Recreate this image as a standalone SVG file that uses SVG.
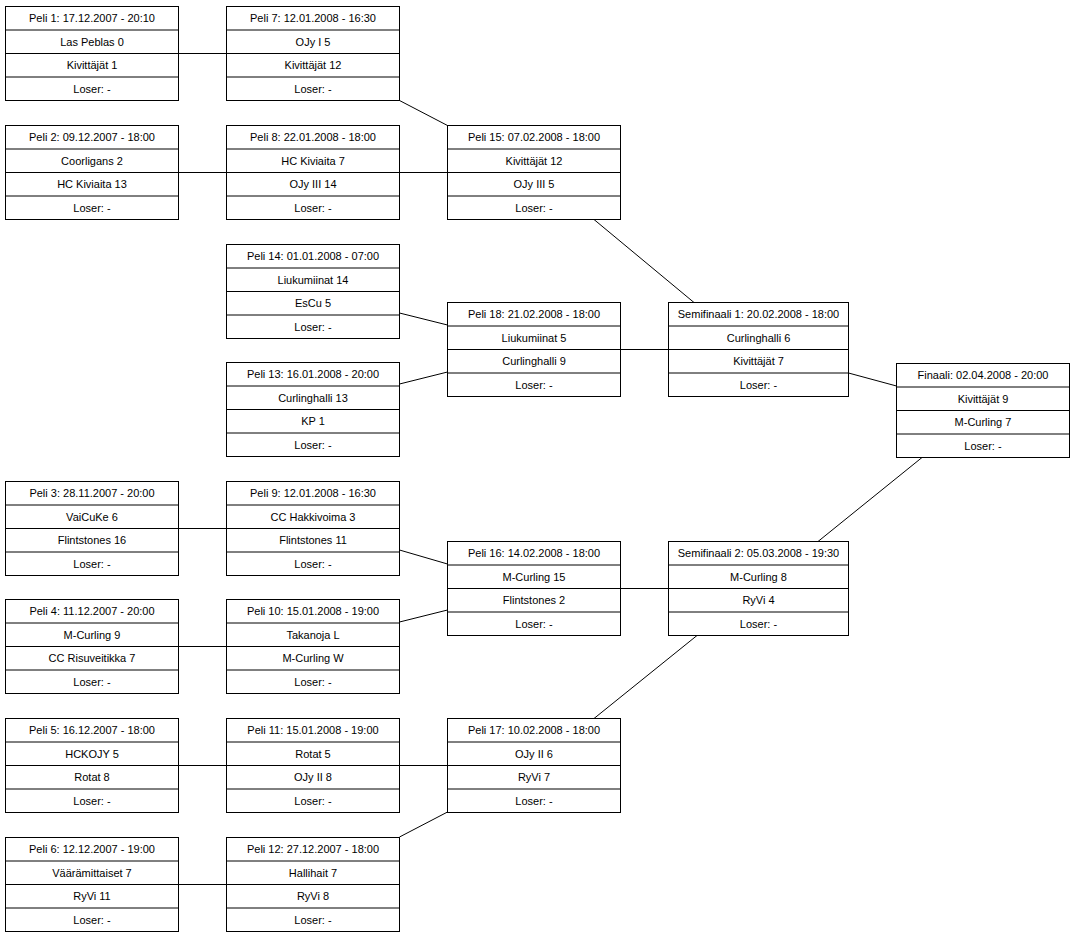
<svg xmlns="http://www.w3.org/2000/svg" width="1074" height="937" viewBox="0 0 1074 937">
<style>
rect{fill:#fff;stroke:#000;stroke-width:1}
.r{stroke:#000;stroke-width:1}
text{font-family:"Liberation Sans",Arial,sans-serif;font-size:11px;text-anchor:middle;fill:#000}
#c line{stroke:#000;stroke-width:1}
</style>
<defs>
<g id="b"><rect x="0" y="0" width="173" height="94"/><line class="r" x1="0" y1="23.5" x2="173" y2="23.5"/><line class="r" x1="0" y1="47" x2="173" y2="47"/><line class="r" x1="0" y1="70.5" x2="173" y2="70.5"/></g>
<g id="bw"><rect x="0" y="0" width="180" height="94"/><line class="r" x1="0" y1="23.5" x2="180" y2="23.5"/><line class="r" x1="0" y1="47" x2="180" y2="47"/><line class="r" x1="0" y1="70.5" x2="180" y2="70.5"/></g>
</defs>
<rect x="0" y="0" width="1074" height="937" style="stroke:none"/>
<g id="c">
<line x1="178.5" y1="53.5" x2="226.5" y2="53.5"/>
<line x1="399.5" y1="100.5" x2="447.5" y2="125.5"/>
<line x1="178.5" y1="172.5" x2="226.5" y2="172.5"/>
<line x1="399.5" y1="172.5" x2="447.5" y2="172.5"/>
<line x1="594" y1="219.5" x2="694" y2="302.5"/>
<line x1="399.5" y1="313" x2="447.5" y2="325"/>
<line x1="399.5" y1="384" x2="447.5" y2="372"/>
<line x1="620.5" y1="349.5" x2="668.5" y2="349.5"/>
<line x1="848.5" y1="373" x2="896.5" y2="386"/>
<line x1="818" y1="541.5" x2="922" y2="457.5"/>
<line x1="178.5" y1="528.5" x2="226.5" y2="528.5"/>
<line x1="399.5" y1="550" x2="447.5" y2="564"/>
<line x1="178.5" y1="646.5" x2="226.5" y2="646.5"/>
<line x1="399.5" y1="622" x2="447.5" y2="610"/>
<line x1="620.5" y1="588.5" x2="668.5" y2="588.5"/>
<line x1="594" y1="718.5" x2="697" y2="635.5"/>
<line x1="178.5" y1="765.5" x2="226.5" y2="765.5"/>
<line x1="399.5" y1="765.5" x2="447.5" y2="765.5"/>
<line x1="399.5" y1="837" x2="447.5" y2="812"/>
<line x1="178.5" y1="884.5" x2="226.5" y2="884.5"/>
</g>
<g id="p1" transform="translate(5.5,6.5)"><use href="#b"/><text x="86.5" y="15">Peli 1: 17.12.2007 - 20:10</text><text x="86.5" y="39">Las Peblas 0</text><text x="86.5" y="62">Kivittäjät 1</text><text x="86.5" y="86">Loser: -</text></g>
<g id="p2" transform="translate(5.5,125.5)"><use href="#b"/><text x="86.5" y="15">Peli 2: 09.12.2007 - 18:00</text><text x="86.5" y="39">Coorligans 2</text><text x="86.5" y="62">HC Kiviaita 13</text><text x="86.5" y="86">Loser: -</text></g>
<g id="p3" transform="translate(5.5,481.5)"><use href="#b"/><text x="86.5" y="15">Peli 3: 28.11.2007 - 20:00</text><text x="86.5" y="39">VaiCuKe 6</text><text x="86.5" y="62">Flintstones 16</text><text x="86.5" y="86">Loser: -</text></g>
<g id="p4" transform="translate(5.5,599.5)"><use href="#b"/><text x="86.5" y="15">Peli 4: 11.12.2007 - 20:00</text><text x="86.5" y="39">M-Curling 9</text><text x="86.5" y="62">CC Risuveitikka 7</text><text x="86.5" y="86">Loser: -</text></g>
<g id="p5" transform="translate(5.5,718.5)"><use href="#b"/><text x="86.5" y="15">Peli 5: 16.12.2007 - 18:00</text><text x="86.5" y="39">HCKOJY 5</text><text x="86.5" y="62">Rotat 8</text><text x="86.5" y="86">Loser: -</text></g>
<g id="p6" transform="translate(5.5,837.5)"><use href="#b"/><text x="86.5" y="15">Peli 6: 12.12.2007 - 19:00</text><text x="86.5" y="39">Väärämittaiset 7</text><text x="86.5" y="62">RyVi 11</text><text x="86.5" y="86">Loser: -</text></g>
<g id="p7" transform="translate(226.5,6.5)"><use href="#b"/><text x="86.5" y="15">Peli 7: 12.01.2008 - 16:30</text><text x="86.5" y="39">OJy I 5</text><text x="86.5" y="62">Kivittäjät 12</text><text x="86.5" y="86">Loser: -</text></g>
<g id="p8" transform="translate(226.5,125.5)"><use href="#b"/><text x="86.5" y="15">Peli 8: 22.01.2008 - 18:00</text><text x="86.5" y="39">HC Kiviaita 7</text><text x="86.5" y="62">OJy III 14</text><text x="86.5" y="86">Loser: -</text></g>
<g id="p14" transform="translate(226.5,244.5)"><use href="#b"/><text x="86.5" y="15">Peli 14: 01.01.2008 - 07:00</text><text x="86.5" y="39">Liukumiinat 14</text><text x="86.5" y="62">EsCu 5</text><text x="86.5" y="86">Loser: -</text></g>
<g id="p13" transform="translate(226.5,362.5)"><use href="#b"/><text x="86.5" y="15">Peli 13: 16.01.2008 - 20:00</text><text x="86.5" y="39">Curlinghalli 13</text><text x="86.5" y="62">KP 1</text><text x="86.5" y="86">Loser: -</text></g>
<g id="p9" transform="translate(226.5,481.5)"><use href="#b"/><text x="86.5" y="15">Peli 9: 12.01.2008 - 16:30</text><text x="86.5" y="39">CC Hakkivoima 3</text><text x="86.5" y="62">Flintstones 11</text><text x="86.5" y="86">Loser: -</text></g>
<g id="p10" transform="translate(226.5,599.5)"><use href="#b"/><text x="86.5" y="15">Peli 10: 15.01.2008 - 19:00</text><text x="86.5" y="39">Takanoja L</text><text x="86.5" y="62">M-Curling W</text><text x="86.5" y="86">Loser: -</text></g>
<g id="p11" transform="translate(226.5,718.5)"><use href="#b"/><text x="86.5" y="15">Peli 11: 15.01.2008 - 19:00</text><text x="86.5" y="39">Rotat 5</text><text x="86.5" y="62">OJy II 8</text><text x="86.5" y="86">Loser: -</text></g>
<g id="p12" transform="translate(226.5,837.5)"><use href="#b"/><text x="86.5" y="15">Peli 12: 27.12.2007 - 18:00</text><text x="86.5" y="39">Hallihait 7</text><text x="86.5" y="62">RyVi 8</text><text x="86.5" y="86">Loser: -</text></g>
<g id="p15" transform="translate(447.5,125.5)"><use href="#b"/><text x="86.5" y="15">Peli 15: 07.02.2008 - 18:00</text><text x="86.5" y="39">Kivittäjät 12</text><text x="86.5" y="62">OJy III 5</text><text x="86.5" y="86">Loser: -</text></g>
<g id="p18" transform="translate(447.5,302.5)"><use href="#b"/><text x="86.5" y="15">Peli 18: 21.02.2008 - 18:00</text><text x="86.5" y="39">Liukumiinat 5</text><text x="86.5" y="62">Curlinghalli 9</text><text x="86.5" y="86">Loser: -</text></g>
<g id="p16" transform="translate(447.5,541.5)"><use href="#b"/><text x="86.5" y="15">Peli 16: 14.02.2008 - 18:00</text><text x="86.5" y="39">M-Curling 15</text><text x="86.5" y="62">Flintstones 2</text><text x="86.5" y="86">Loser: -</text></g>
<g id="p17" transform="translate(447.5,718.5)"><use href="#b"/><text x="86.5" y="15">Peli 17: 10.02.2008 - 18:00</text><text x="86.5" y="39">OJy II 6</text><text x="86.5" y="62">RyVi 7</text><text x="86.5" y="86">Loser: -</text></g>
<g id="s1" transform="translate(668.5,302.5)"><use href="#bw"/><text x="90" y="15">Semifinaali 1: 20.02.2008 - 18:00</text><text x="90" y="39">Curlinghalli 6</text><text x="90" y="62">Kivittäjät 7</text><text x="90" y="86">Loser: -</text></g>
<g id="s2" transform="translate(668.5,541.5)"><use href="#bw"/><text x="90" y="15">Semifinaali 2: 05.03.2008 - 19:30</text><text x="90" y="39">M-Curling 8</text><text x="90" y="62">RyVi 4</text><text x="90" y="86">Loser: -</text></g>
<g id="f" transform="translate(896.5,363.5)"><use href="#b"/><text x="86.5" y="15">Finaali: 02.04.2008 - 20:00</text><text x="86.5" y="39">Kivittäjät 9</text><text x="86.5" y="62">M-Curling 7</text><text x="86.5" y="86">Loser: -</text></g>
</svg>
